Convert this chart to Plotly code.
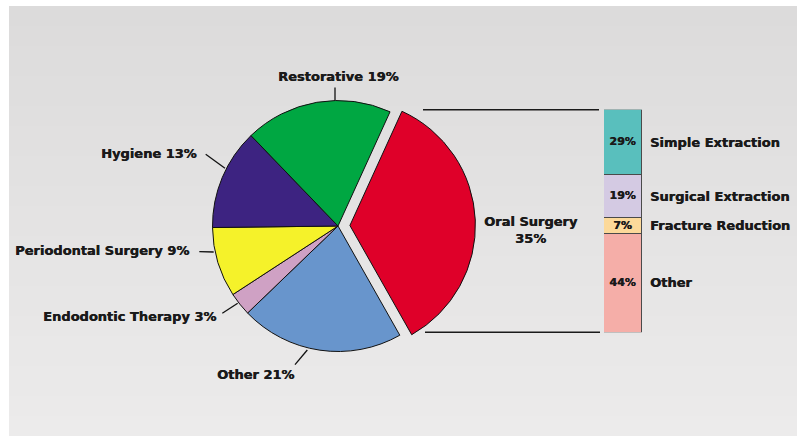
import plotly.graph_objects as go

# ---------------- data ----------------
pie_labels = ["Oral Surgery", "Other", "Endodontic Therapy", "Periodontal Surgery", "Hygiene", "Restorative"]
pie_values = [35, 21, 3, 9, 13, 19]
pie_colors = ["#df0029", "#6895cc", "#cfa1c4", "#f5f22a", "#3d2381", "#00a742"]
pie_pull = [0.095, 0, 0, 0, 0, 0]

bar_labels = ["Simple Extraction", "Surgical Extraction", "Fracture Reduction", "Other"]
bar_values = [29, 19, 7, 44]
bar_colors = ["#59bfbd", "#d4cae3", "#fcd99a", "#f5aea8"]

# ---------------- layout helpers ----------------
W, H = 797, 436
def PX(x):
    return x / W
def PY(y):
    return 1 - y / H

FONT = "DejaVu Sans"
TXT = "#1a1a1a"
HEAVY = "0.45px 0 0 #1a1a1a"

fig = go.Figure()

# pie geometry (pixels): centre and radius of the unpulled pie
cx, cy, r = 338, 226, 125.5
box = r * (1 + max(pie_pull))

fig.add_trace(go.Pie(
    labels=pie_labels,
    values=pie_values,
    sort=False,
    direction="clockwise",
    rotation=24.5,
    pull=pie_pull,
    marker=dict(colors=pie_colors, line=dict(color="#111111", width=1)),
    textinfo="none",
    hoverinfo="label+percent",
    showlegend=False,
    domain=dict(x=[PX(cx - box), PX(cx + box)], y=[PY(cy + box), PY(cy - box)]),
))

# stacked bar (top to bottom order)
total = sum(bar_values)
for lab, val, col in zip(bar_labels, bar_values, bar_colors):
    fig.add_trace(go.Bar(
        x=[0], y=[val], name=lab,
        marker=dict(color=col, line=dict(color="#4a4a4a", width=1)),
        text=[f"{val}%"], textposition="inside", insidetextanchor="middle",
        constraintext="none",
        textfont=dict(family=FONT, size=11, color=TXT, weight="bold", shadow=HEAVY),
        showlegend=False, xaxis="x", yaxis="y",
    ))

bar_x0, bar_x1, bar_top, bar_bot = 604, 642, 109.7, 332.3

# ---------------- background ----------------
shapes = []
y0p, y1p = 6, H
steps = 43
c_top = (220, 219, 219)
c_bot = (236, 235, 235)
for i in range(steps):
    t = i / (steps - 1)
    col = tuple(round(a + (b - a) * t) for a, b in zip(c_top, c_bot))
    ya = y0p + (y1p - y0p) * i / steps
    yb = y0p + (y1p - y0p) * (i + 1) / steps + 1
    shapes.append(dict(type="rect", xref="paper", yref="paper", layer="below",
                       x0=PX(9), x1=1.0, y0=PY(min(yb, H)), y1=PY(ya),
                       fillcolor="rgb(%d,%d,%d)" % col, line=dict(width=0)))

# connector lines from pie to bar (at bar top and bottom)
shapes.append(dict(type="line", xref="paper", yref="paper", x0=PX(423), x1=PX(599),
                   y0=PY(bar_top), y1=PY(bar_top), line=dict(color="#1a1a1a", width=1.4)))
shapes.append(dict(type="line", xref="paper", yref="paper", x0=PX(425), x1=PX(600),
                   y0=PY(bar_bot), y1=PY(bar_bot), line=dict(color="#1a1a1a", width=1.4)))

# ---------------- pie labels ----------------
# (text x, text y, xanchor, leader line x0, y0, x1, y1) in pixels
label_layout = {
    "Restorative": (338, 76, "center", (335, 87.5, 335, 100.5)),
    "Hygiene": (198.5, 153, "right", (205.7, 154.3, 225, 168.3)),
    "Periodontal Surgery": (190.5, 250, "right", (199.3, 251.7, 213.7, 252)),
    "Endodontic Therapy": (217.5, 316.7, "right", (222.3, 313.3, 237.7, 303.3)),
    "Other": (255.7, 374.5, "center", (295, 364.7, 307.3, 350)),
    "Oral Surgery": (530.7, 229.5, "center", None),
}

annotations = []
for lab, val in zip(pie_labels, pie_values):
    tx, ty, anc, ln = label_layout[lab]
    text = f"{lab}<br>{val}%" if lab == "Oral Surgery" else f"{lab} {val}%"
    annotations.append(dict(x=PX(tx), y=PY(ty), xref="paper", yref="paper", text=text,
                            xanchor=anc, yanchor="middle", showarrow=False,
                            font=dict(family=FONT, size=13, color=TXT, weight="bold", shadow=HEAVY),
                            align="center"))
    if ln:
        shapes.append(dict(type="line", xref="paper", yref="paper",
                           x0=PX(ln[0]), y0=PY(ln[1]), x1=PX(ln[2]), y1=PY(ln[3]),
                           line=dict(color="#111111", width=1.3)))

# bar segment labels (right side)
cum = 0
for lab, val in zip(bar_labels, bar_values):
    mid = cum + val / 2
    cum += val
    annotations.append(dict(x=PX(648), y=mid, xref="paper", yref="y", text=lab,
                            xanchor="left", yanchor="middle", showarrow=False,
                            font=dict(family=FONT, size=13, color=TXT, weight="bold", shadow=HEAVY)))

fig.update_layout(
    width=W, height=H,
    margin=dict(l=0, r=0, t=0, b=0),
    paper_bgcolor="white",
    plot_bgcolor="rgba(0,0,0,0)",
    barmode="stack",
    bargap=0,
    xaxis=dict(domain=[PX(bar_x0), PX(bar_x1)], range=[-0.5, 0.5], visible=False, fixedrange=True),
    yaxis=dict(domain=[PY(bar_bot), PY(bar_top)], range=[total, 0], visible=False, fixedrange=True),
    shapes=shapes,
    annotations=annotations,
    showlegend=False,
)

fig.write_html("out.html", config={"displayModeBar": False},
               post_script="document.body.style.margin='0';document.body.style.overflow='hidden';")
